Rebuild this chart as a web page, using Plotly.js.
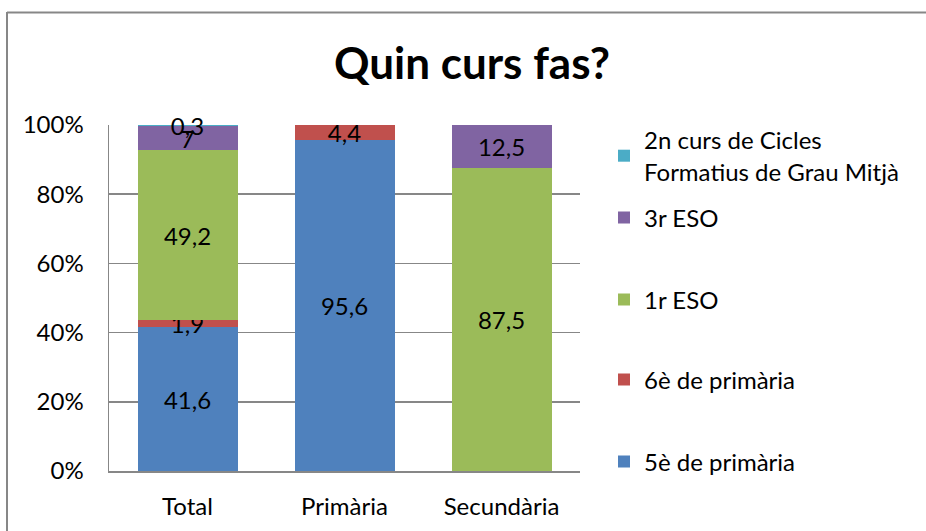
<!DOCTYPE html>
<html>
<head>
<meta charset="utf-8">
<script src="https://cdn.plot.ly/plotly-3.0.1.min.js"></script>
<style>html,body{margin:0;padding:0;background:#fff;}#chart{width:926px;height:531px;}</style>
</head>
<body>
<div id="chart"></div>
<script>
const categories = ['Total', 'Primària', 'Secundària'];
const seriesNames = ['5è de primària', '6è de primària', '1r ESO', '3r ESO', '2n curs de Cicles<br>Formatius de Grau Mitjà'];
const v5e = [41.6, 95.6, null];
const v6e = [1.9, 4.4, null];
const v1r = [49.2, null, 87.5];
const v3r = [7, null, 12.5];
const v2n = [0.3, null, null];
const colors = ['#4F81BD', '#C0504D', '#9BBB59', '#8064A2', '#4BACC6'];
const yTicks = [0, 20, 40, 60, 80, 100];
const legendY = [462, 380, 300, 218, 156];

const FONT = 'Lato, "Open Sans", sans-serif';
const FS = 24;
const allSeries = [v5e, v6e, v1r, v3r, v2n];
const legendIds = ['legend', 'legend2', 'legend3', 'legend4', 'legend5'];

const traces = allSeries.map((vals, i) => ({
  type: 'bar',
  name: seriesNames[i],
  x: categories,
  y: vals,
  marker: {color: colors[i], line: {width: 0}},
  text: vals.map(v => v == null ? '' : String(v).replace('.', ',')),
  textposition: 'inside',
  insidetextanchor: 'middle',
  textangle: 0,
  constraintext: 'none',
  cliponaxis: false,
  textfont: {family: FONT, size: FS, color: '#000'},
  hoverinfo: 'none',
  legend: legendIds[i]
}));

const W = 926, H = 531;
const L = 109, R = 580, T = 125, B = 471;
const px = x => (x - L) / (R - L);
const py = y => (B - y) / (B - T);

const layout = {
  width: W, height: H,
  margin: {l: L, r: W - R, t: T, b: H - B, pad: 0},
  paper_bgcolor: '#fff', plot_bgcolor: '#fff',
  barmode: 'stack',
  bargap: 0.363,
  showlegend: true,
  font: {family: FONT, size: FS, color: '#000'},
  title: {
    text: '<b>Quin curs fas?</b>',
    font: {family: FONT, size: 44, color: '#000'},
    x: 472 / W, xanchor: 'center', xref: 'container',
    y: 1 - 64 / H, yanchor: 'middle', yref: 'container'
  },
  xaxis: {
    type: 'category',
    range: [-0.5, 2.5],
    showgrid: false,
    showline: true, linecolor: '#878787', linewidth: 1.5,
    ticks: '',
    ticklabelstandoff: 14,
    tickfont: {family: FONT, size: FS, color: '#000'},
    fixedrange: true
  },
  yaxis: {
    range: [0, 100],
    tickvals: yTicks,
    ticktext: yTicks.map(t => t + '%'),
    showgrid: true, gridcolor: '#878787', gridwidth: 1.5,
    showline: true, linecolor: '#878787', linewidth: 1.5,
    zeroline: false,
    ticks: '',
    ticklabelstandoff: 19,
    tickfont: {family: FONT, size: FS, color: '#000'},
    fixedrange: true
  },
  shapes: [
    {type: 'line', xref: 'paper', yref: 'paper', x0: px(7), x1: px(7), y0: py(12), y1: py(531), line: {color: '#878787', width: 2}},
    {type: 'line', xref: 'paper', yref: 'paper', x0: px(7), x1: px(926), y0: py(12.5), y1: py(12.5), line: {color: '#878787', width: 2}}
  ]
};

legendIds.forEach((id, i) => {
  layout[id] = {
    xref: 'container', yref: 'container',
    x: 604 / W, xanchor: 'left',
    y: 1 - legendY[i] / H, yanchor: 'middle',
    bgcolor: 'rgba(0,0,0,0)', borderwidth: 0,
    font: {family: FONT, size: FS, color: '#000'},
    itemclick: false, itemdoubleclick: false
  };
});

Plotly.newPlot('chart', traces, layout, {staticPlot: true, displayModeBar: false});
</script>
</body>
</html>
